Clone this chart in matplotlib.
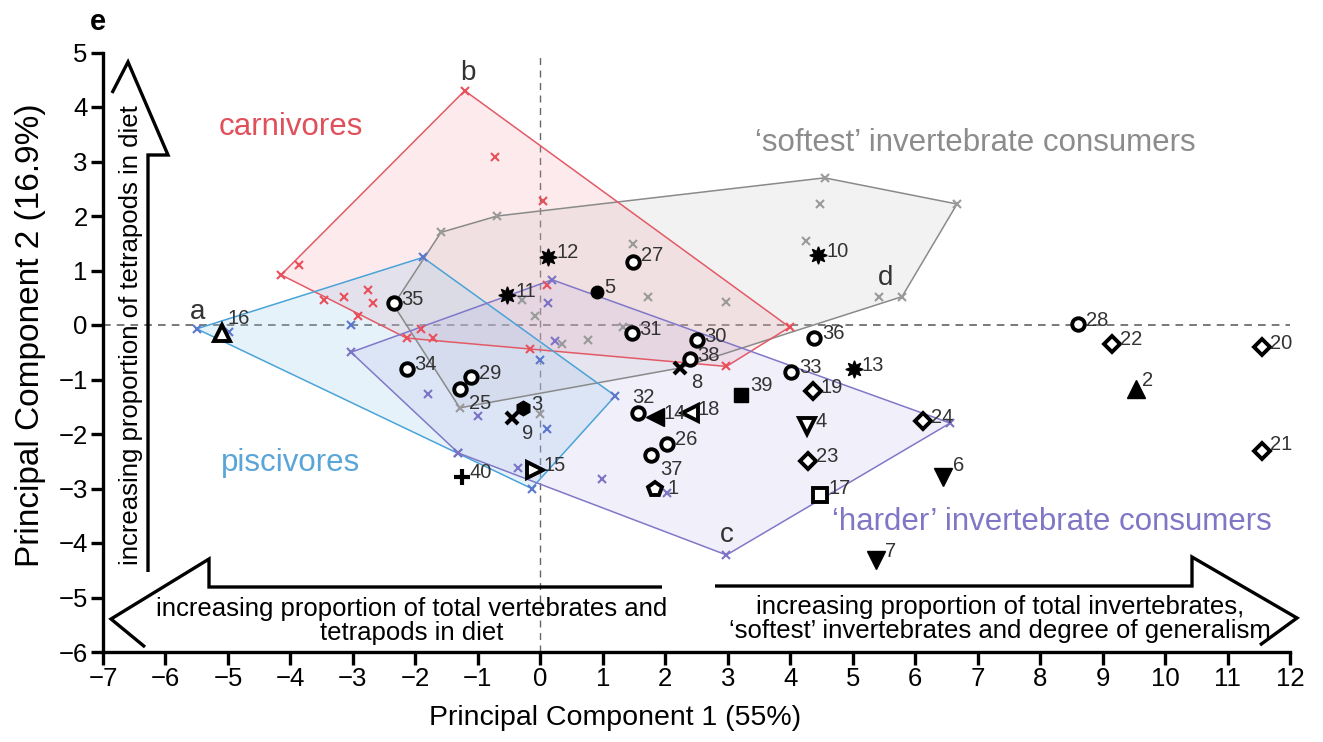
import matplotlib
matplotlib.use('Agg')
import matplotlib.pyplot as plt
from matplotlib.lines import Line2D
from matplotlib.patches import Polygon

plt.rcParams['font.family'] = ['Liberation Sans', 'DejaVu Sans']

# ---------------- data ----------------
species_ids = [1, 2, 3, 4, 5, 6, 7, 8, 9, 10,
               11, 12, 13, 14, 15, 16, 17, 18, 19, 20,
               21, 22, 23, 24, 25, 26, 27, 28, 29, 30,
               31, 32, 33, 34, 35, 36, 37, 38, 39, 40]
species_pc1 = [1.84, 9.54, -0.28, 4.27, 0.90, 6.44, 5.38, 2.23, -0.46, 4.45,
               -0.53, 0.13, 5.02, 1.84, -0.08, -5.10, 4.48, 2.39, 4.36, 11.55,
               11.55, 9.15, 4.29, 6.13, -1.29, 2.02, 1.48, 8.60, -1.11, 2.50,
               1.46, 1.56, 4.02, -2.14, -2.35, 4.38, 1.77, 2.39, 3.22, -1.26]
species_pc2 = [-3.00, -1.18, -1.53, -1.85, 0.61, -2.78, -4.31, -0.79, -1.71, 1.28,
               0.55, 1.25, -0.81, -1.69, -2.66, -0.15, -3.12, -1.62, -1.22, -0.41,
               -2.31, -0.34, -2.49, -1.77, -1.18, -2.18, 1.16, 0.01, -0.96, -0.28,
               -0.15, -1.62, -0.86, -0.80, 0.40, -0.23, -2.39, -0.63, -1.28, -2.78]
species_kind = ['p_open', '^_fill', 'h_fill', 'v_open', 'o_fill', 'v_fill', 'v_fill', 'x', 'x', 'star',
                'star', 'star', 'star', '<_fill', '>_open', '^_open', 's_open', '<_open', 'D_open', 'D_open',
                'D_open', 'D_open', 'D_open', 'D_open', 'o_open', 'o_open', 'o_open', 'o_open', 'o_open', 'o_open',
                'o_open', 'o_open', 'o_open', 'o_open', 'o_open', 'o_open', 'o_open', 'o_open', 's_fill', 'plus']

# group members (individual x points)
carn_pc1 = [-1.21, -0.72, 0.05, -4.15, -3.86, -3.46, -3.14, -2.76, -2.68, -2.92,
            -2.14, -1.91, -1.71, 0.11, -0.16, 3.99, 2.98]
carn_pc2 = [4.30, 3.09, 2.28, 0.92, 1.11, 0.46, 0.52, 0.65, 0.41, 0.17,
            -0.24, -0.07, -0.24, 0.74, -0.44, -0.04, -0.76]
carn_hull = [0, 15, 16, 10, 3]

soft_pc1 = [-2.35, -1.59, -0.69, 4.55, 6.67, 5.79, 5.42, 4.47, 4.26, 1.48,
            1.72, 2.98, -0.29, -0.08, 1.32, 0.77, 0.35, 0.00, -1.29, 2.23]
soft_pc2 = [0.37, 1.70, 2.00, 2.70, 2.22, 0.52, 0.52, 2.22, 1.54, 1.48,
            0.52, 0.43, 0.46, 0.17, -0.03, -0.28, -0.35, -1.63, -1.52, -0.79]
soft_hull = [0, 1, 2, 3, 4, 5, 19, 18]

pisc_pc1 = [-5.50, -4.98, -3.03, -1.88, 1.20, -0.14, 0.11, 0.00, -1.31]
pisc_pc2 = [-0.07, -0.13, 0.00, 1.24, -1.30, -3.00, -1.90, -0.65, -2.35]
pisc_hull = [0, 3, 4, 5]

hard_pc1 = [-3.03, 0.19, 6.56, 2.98, -1.31, 0.13, -1.79, -1.00, -0.35, 0.99, 2.03, 0.24]
hard_pc2 = [-0.50, 0.83, -1.80, -4.22, -2.35, 0.41, -1.26, -1.67, -2.62, -2.83, -3.09, -0.30]
hard_hull = [0, 1, 2, 3, 4]

x_ticks = list(range(-7, 13))
y_ticks = list(range(-6, 6))

# ---------------- styles ----------------
W, H = 1323, 742
fig = plt.figure(figsize=(W / 100, H / 100), dpi=100)
ax = fig.add_axes([103 / W, 1 - 652 / H, (1290 - 103) / W, (652 - 52.5) / H])
ax.set_xlim(-7, 12)
ax.set_ylim(-6, 5)

for s in ['top', 'right']:
    ax.spines[s].set_visible(False)
for s in ['left', 'bottom']:
    ax.spines[s].set_linewidth(2.4)
ax.set_xticks(x_ticks)
ax.set_yticks(y_ticks)
ax.tick_params(direction='out', length=9, width=2.4, labelsize=18.5, pad=2)
ax.set_facecolor('none')

dash = (0, (5, 4))
ax.axhline(0, color='#555555', lw=1.1, ls=dash, zorder=1)
ax.axvline(0, color='#666666', lw=1.0, ls=dash, zorder=1)

groups = [
    (soft_pc1, soft_pc2, soft_hull, '#8a8a8a', '#c4c4c4', 0.22, '#9a9a9a'),
    (carn_pc1, carn_pc2, carn_hull, '#e35a66', '#f09aa2', 0.2, '#e8505b'),
    (pisc_pc1, pisc_pc2, pisc_hull, '#4aa3d8', '#9ccdee', 0.25, '#5c78cc'),
    (hard_pc1, hard_pc2, hard_hull, '#8078c8', '#b0aae4', 0.18, '#7c74c4'),
]
for gx, gy, hull, lc, fc, alpha, mc in groups:
    verts = [(gx[i], gy[i]) for i in hull]
    ax.add_patch(Polygon(verts, closed=True, facecolor=fc, alpha=alpha,
                         edgecolor='none', zorder=2))
    ax.add_patch(Polygon(verts, closed=True, facecolor='none',
                         edgecolor=lc, lw=1.1, zorder=3))
    ax.plot(gx, gy, ls='none', marker='x', ms=6, mew=1.5, color=mc, zorder=4)

kind_style = {
    'o_open': dict(marker='o', ms=9, mfc='white', mew=2.8),
    'o_fill': dict(marker='o', ms=9, mfc='black', mew=1),
    'h_fill': dict(marker='h', ms=10.5, mfc='black', mew=1),
    'star': dict(marker=(8, 1, 0), ms=12.5, mfc='black', mew=1),
    'x': dict(marker='x', ms=9, mew=3),
    'plus': dict(marker='+', ms=11, mew=3),
    'D_open': dict(marker='D', ms=8.5, mfc='white', mew=2.8),
    's_fill': dict(marker='s', ms=9.5, mfc='black', mew=1),
    's_open': dict(marker='s', ms=9.5, mfc='white', mew=2.8),
    '^_open': dict(marker='^', ms=11, mfc='white', mew=2.8),
    '^_fill': dict(marker='^', ms=12.5, mfc='black', mew=1),
    'v_open': dict(marker='v', ms=11, mfc='white', mew=2.8),
    'v_fill': dict(marker='v', ms=12.5, mfc='black', mew=1),
    '<_fill': dict(marker='<', ms=12.5, mfc='black', mew=1),
    '<_open': dict(marker='<', ms=11, mfc='white', mew=2.8),
    '>_open': dict(marker='>', ms=11, mfc='white', mew=2.8),
    'p_open': dict(marker='p', ms=10.5, mfc='white', mew=2.8),
}
label_offset = {8: (11, -14), 9: (10, -15), 25: (9, -14), 37: (9, -14),
                32: (-6, 16), 16: (6, 15), 1: (12, 0), 6: (10, 11), 7: (9, 8),
                2: (6, 9), 39: (9, 9), 17: (8, 7), 27: (8, 6), 21: (8, 6)}

for sid, x, y, k in zip(species_ids, species_pc1, species_pc2, species_kind):
    st = kind_style[k]
    ax.plot([x], [y], ls='none', color='black', mec='black', zorder=6, **st)
    dx, dy = label_offset.get(sid, (8, 4))
    ax.annotate(str(sid), (x, y), xytext=(dx, dy), textcoords='offset pixels',
                ha='left', va='center', fontsize=14.5, color='#333333', zorder=7)

# hull letters
for letter, (lx, ly) in zip('abcd', [(-5.48, 0.24), (-1.16, 4.62), (2.99, -3.85), (5.52, 0.86)]):
    ax.text(lx, ly, letter, ha='center', va='center', fontsize=20, color='#333333', zorder=7)

# group names
ax.text(-4.0, 3.63, 'carnivores', color='#e0505a', fontsize=22.5, ha='center', va='center')
ax.text(6.96, 3.34, '\u2018softest\u2019 invertebrate consumers', color='#8c8c8c',
        fontsize=22.5, ha='center', va='center')
ax.text(-4.0, -2.53, 'piscivores', color='#5aa5d8', fontsize=22.5, ha='center', va='center')
ax.text(8.19, -3.61, '\u2018harder\u2019 invertebrate consumers', color='#7f77c6',
        fontsize=22.5, ha='center', va='center')


# ---------------- decorative block arrows (figure pixels) ----------------
def fig_line(pts):
    xs = [p[0] / W for p in pts]
    ys = [1 - p[1] / H for p in pts]
    fig.add_artist(Line2D(xs, ys, transform=fig.transFigure, color='black',
                          lw=2.4, solid_joinstyle='miter', solid_capstyle='butt'))


fig_line([(112, 93), (128, 62), (168, 155), (148, 155), (148, 572)])
fig_line([(145, 647), (111, 619), (209, 559), (209, 587), (662, 587)])
fig_line([(715, 586), (1192, 586), (1192, 557), (1297, 618), (1260, 645)])

fig.text(131 / W, 1 - 335 / H, 'increasing proportion of tetrapods in diet',
         rotation=90, ha='center', va='center', fontsize=18.5)
fig.text(412 / W, 1 - 621 / H, 'increasing proportion of total vertebrates and\ntetrapods in diet',
         ha='center', va='center', fontsize=18.5, linespacing=1.05)
fig.text(1000 / W, 1 - 619 / H,
         'increasing proportion of total invertebrates,\n\u2018softest\u2019 invertebrates and degree of generalism',
         ha='center', va='center', fontsize=18.5, linespacing=1.05)

fig.text(615 / W, 1 - 718 / H, 'Principal Component 1 (55%)', ha='center', va='center', fontsize=20.5)
fig.text(31 / W, 1 - 335 / H, 'Principal Component 2 (16.9%)', ha='center', va='center',
         fontsize=24, rotation=90)
fig.text(98 / W, 1 - 22 / H, 'e', ha='center', va='center', fontsize=21, fontweight='bold')

fig.savefig('out.png', dpi=100)
